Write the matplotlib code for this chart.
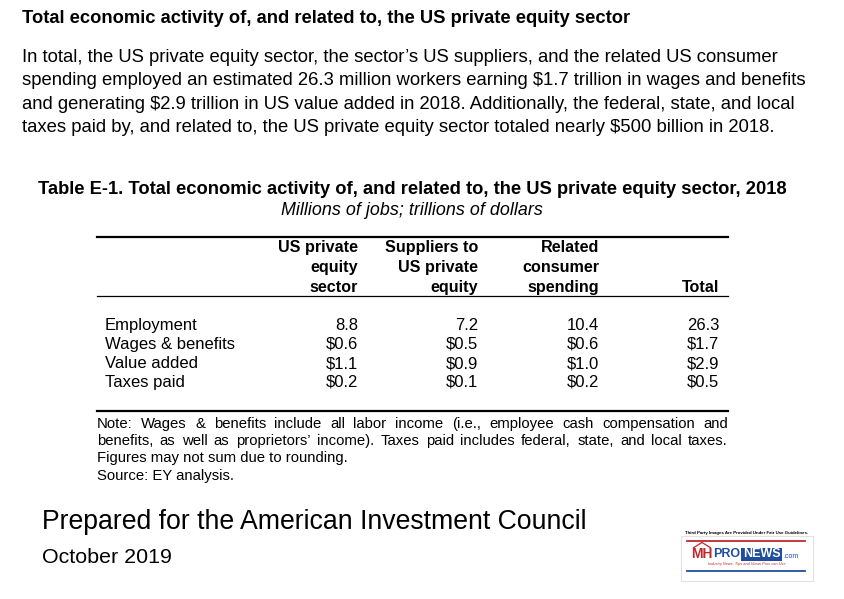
import matplotlib
matplotlib.use("Agg")
import matplotlib.pyplot as plt
from matplotlib.patches import Rectangle, Polygon

W, H = 844, 599

heading = "Total economic activity of, and related to, the US private equity sector"
paragraph = [
    "In total, the US private equity sector, the sector\u2019s US suppliers, and the related US consumer",
    "spending employed an estimated 26.3 million workers earning $1.7 trillion in wages and benefits",
    "and generating $2.9 trillion in US value added in 2018. Additionally, the federal, state, and local",
    "taxes paid by, and related to, the US private equity sector totaled nearly $500 billion in 2018.",
]
table_title = "Table E-1. Total economic activity of, and related to, the US private equity sector, 2018"
table_sub = "Millions of jobs; trillions of dollars"

col_headers = [
    ["US private", "equity", "sector"],
    ["Suppliers to", "US private", "equity"],
    ["Related", "consumer", "spending"],
    ["", "", "Total"],
]
row_labels = ["Employment", "Wages & benefits", "Value added", "Taxes paid"]
pe_sector = ["8.8", "$0.6", "$1.1", "$0.2"]
suppliers = ["7.2", "$0.5", "$0.9", "$0.1"]
consumer = ["10.4", "$0.6", "$1.0", "$0.2"]
total = ["26.3", "$1.7", "$2.9", "$0.5"]

note_lines = [
    "Note: Wages & benefits include all labor income (i.e., employee cash compensation and",
    "benefits, as well as proprietors\u2019 income). Taxes paid includes federal, state, and local taxes.",
    "Figures may not sum due to rounding.",
    "Source: EY analysis.",
]
footer = ["Prepared for the American Investment Council", "October 2019"]

plt.rcParams["font.family"] = ["Liberation Sans", "DejaVu Sans"]
fig = plt.figure(figsize=(W / 100, H / 100), dpi=100)
fig.patch.set_facecolor("white")


def px(x, y):
    return x / W, 1 - y / H


def put(x, y, s, **kw):
    kw.setdefault("va", "baseline")
    kw.setdefault("color", "black")
    return fig.text(*px(x, y), s, **kw)


def hline(x0, x1, y, lw):
    fig.add_artist(plt.Line2D([x0 / W, x1 / W], [1 - y / H, 1 - y / H],
                              color="black", lw=lw))


def justify(x0, x1, y, s, size):
    # spread the words of one line between x0 and x1
    rend = fig.canvas.get_renderer()
    words = s.split(" ")
    widths = []
    for w in words:
        t = put(0, 0, w, fontsize=size)
        widths.append(t.get_window_extent(rend).width)
        t.remove()
    gap = (x1 - x0 - sum(widths)) / (len(words) - 1)
    x = x0
    for w, wd in zip(words, widths):
        put(x, y, w, fontsize=size)
        x += wd + gap


# heading and paragraph
put(22, 23, heading, fontsize=13.2, fontweight="bold")
for i, line in enumerate(paragraph):
    put(22, 62 + i * 23.3, line, fontsize=13.3)

# table title
put(412, 194, table_title, fontsize=13.2, fontweight="bold", ha="center")
put(412, 215, table_sub, fontsize=12.9, style="italic", ha="center")

# table
tx0, tx1 = 97, 728
col_right = [358, 478, 599, 719]
hline(tx0, tx1, 237, 1.6)
for c, hdr in enumerate(col_headers):
    for r, s in enumerate(hdr):
        put(col_right[c], 252 + r * 20, s, fontsize=11.6, fontweight="bold", ha="right")
hline(tx0, tx1, 296, 0.9)

cols = [pe_sector, suppliers, consumer, total]
for r, lab in enumerate(row_labels):
    yb = 330 + r * 19
    put(105, yb, lab, fontsize=12)
    for c, vals in enumerate(cols):
        put(col_right[c], yb, vals[r], fontsize=12, ha="right")

hline(tx0, tx1, 411, 1.6)
for i, line in enumerate(note_lines):
    yb = 428 + i * 17.2
    if i < 2:
        justify(tx0, tx1, yb, line, 10.7)
    else:
        put(tx0, yb, line, fontsize=10.7)

# footer
put(42, 529, footer[0], fontsize=19.2)
put(42, 563, footer[1], fontsize=15.4)

# small logo, bottom right
lx, ly, lw_, lh = 678, 522, 138, 64
ax = fig.add_axes([lx / W, 1 - (ly + lh) / H, lw_ / W, lh / H])
ax.set_xlim(0, lw_)
ax.set_ylim(lh, 0)
ax.axis("off")
ax.add_patch(Rectangle((3, 14), 132, 45, facecolor="white", edgecolor="#e2e2e2", lw=0.8))
ax.text(69, 11, "Third Party Images Are Provided Under Fair Use Guidelines.",
        fontsize=3.2, ha="center", va="center", fontweight="bold")
ax.plot([9, 127], [19, 19], color="#c0282d", lw=1.3)
ax.add_patch(Polygon([[15, 26], [24, 20.5], [33, 26]], closed=False, fill=False,
                     edgecolor="#c0282d", lw=0.9))
ax.text(13, 32, "MH", fontsize=10, fontweight="bold", color="#c0282d", va="center")
ax.text(35.5, 32, "PRO", fontsize=9, fontweight="bold", color="#1f4e9c", va="center")
ax.add_patch(Rectangle((63, 25.5), 41, 13, facecolor="#1f4e9c"))
ax.text(83.5, 32, "NEWS", fontsize=9, fontweight="bold", color="white",
        va="center", ha="center")
ax.text(105, 34, ".com", fontsize=5, color="#1f4e9c", va="center")
ax.text(69, 42, "Industry News, Tips and Views Pros can Use", fontsize=2.8,
        color="#c0282d", ha="center", va="center", style="italic")
ax.plot([9, 127], [49, 49], color="#1f4e9c", lw=1.3)

fig.savefig("out.png", dpi=100, facecolor="white")
